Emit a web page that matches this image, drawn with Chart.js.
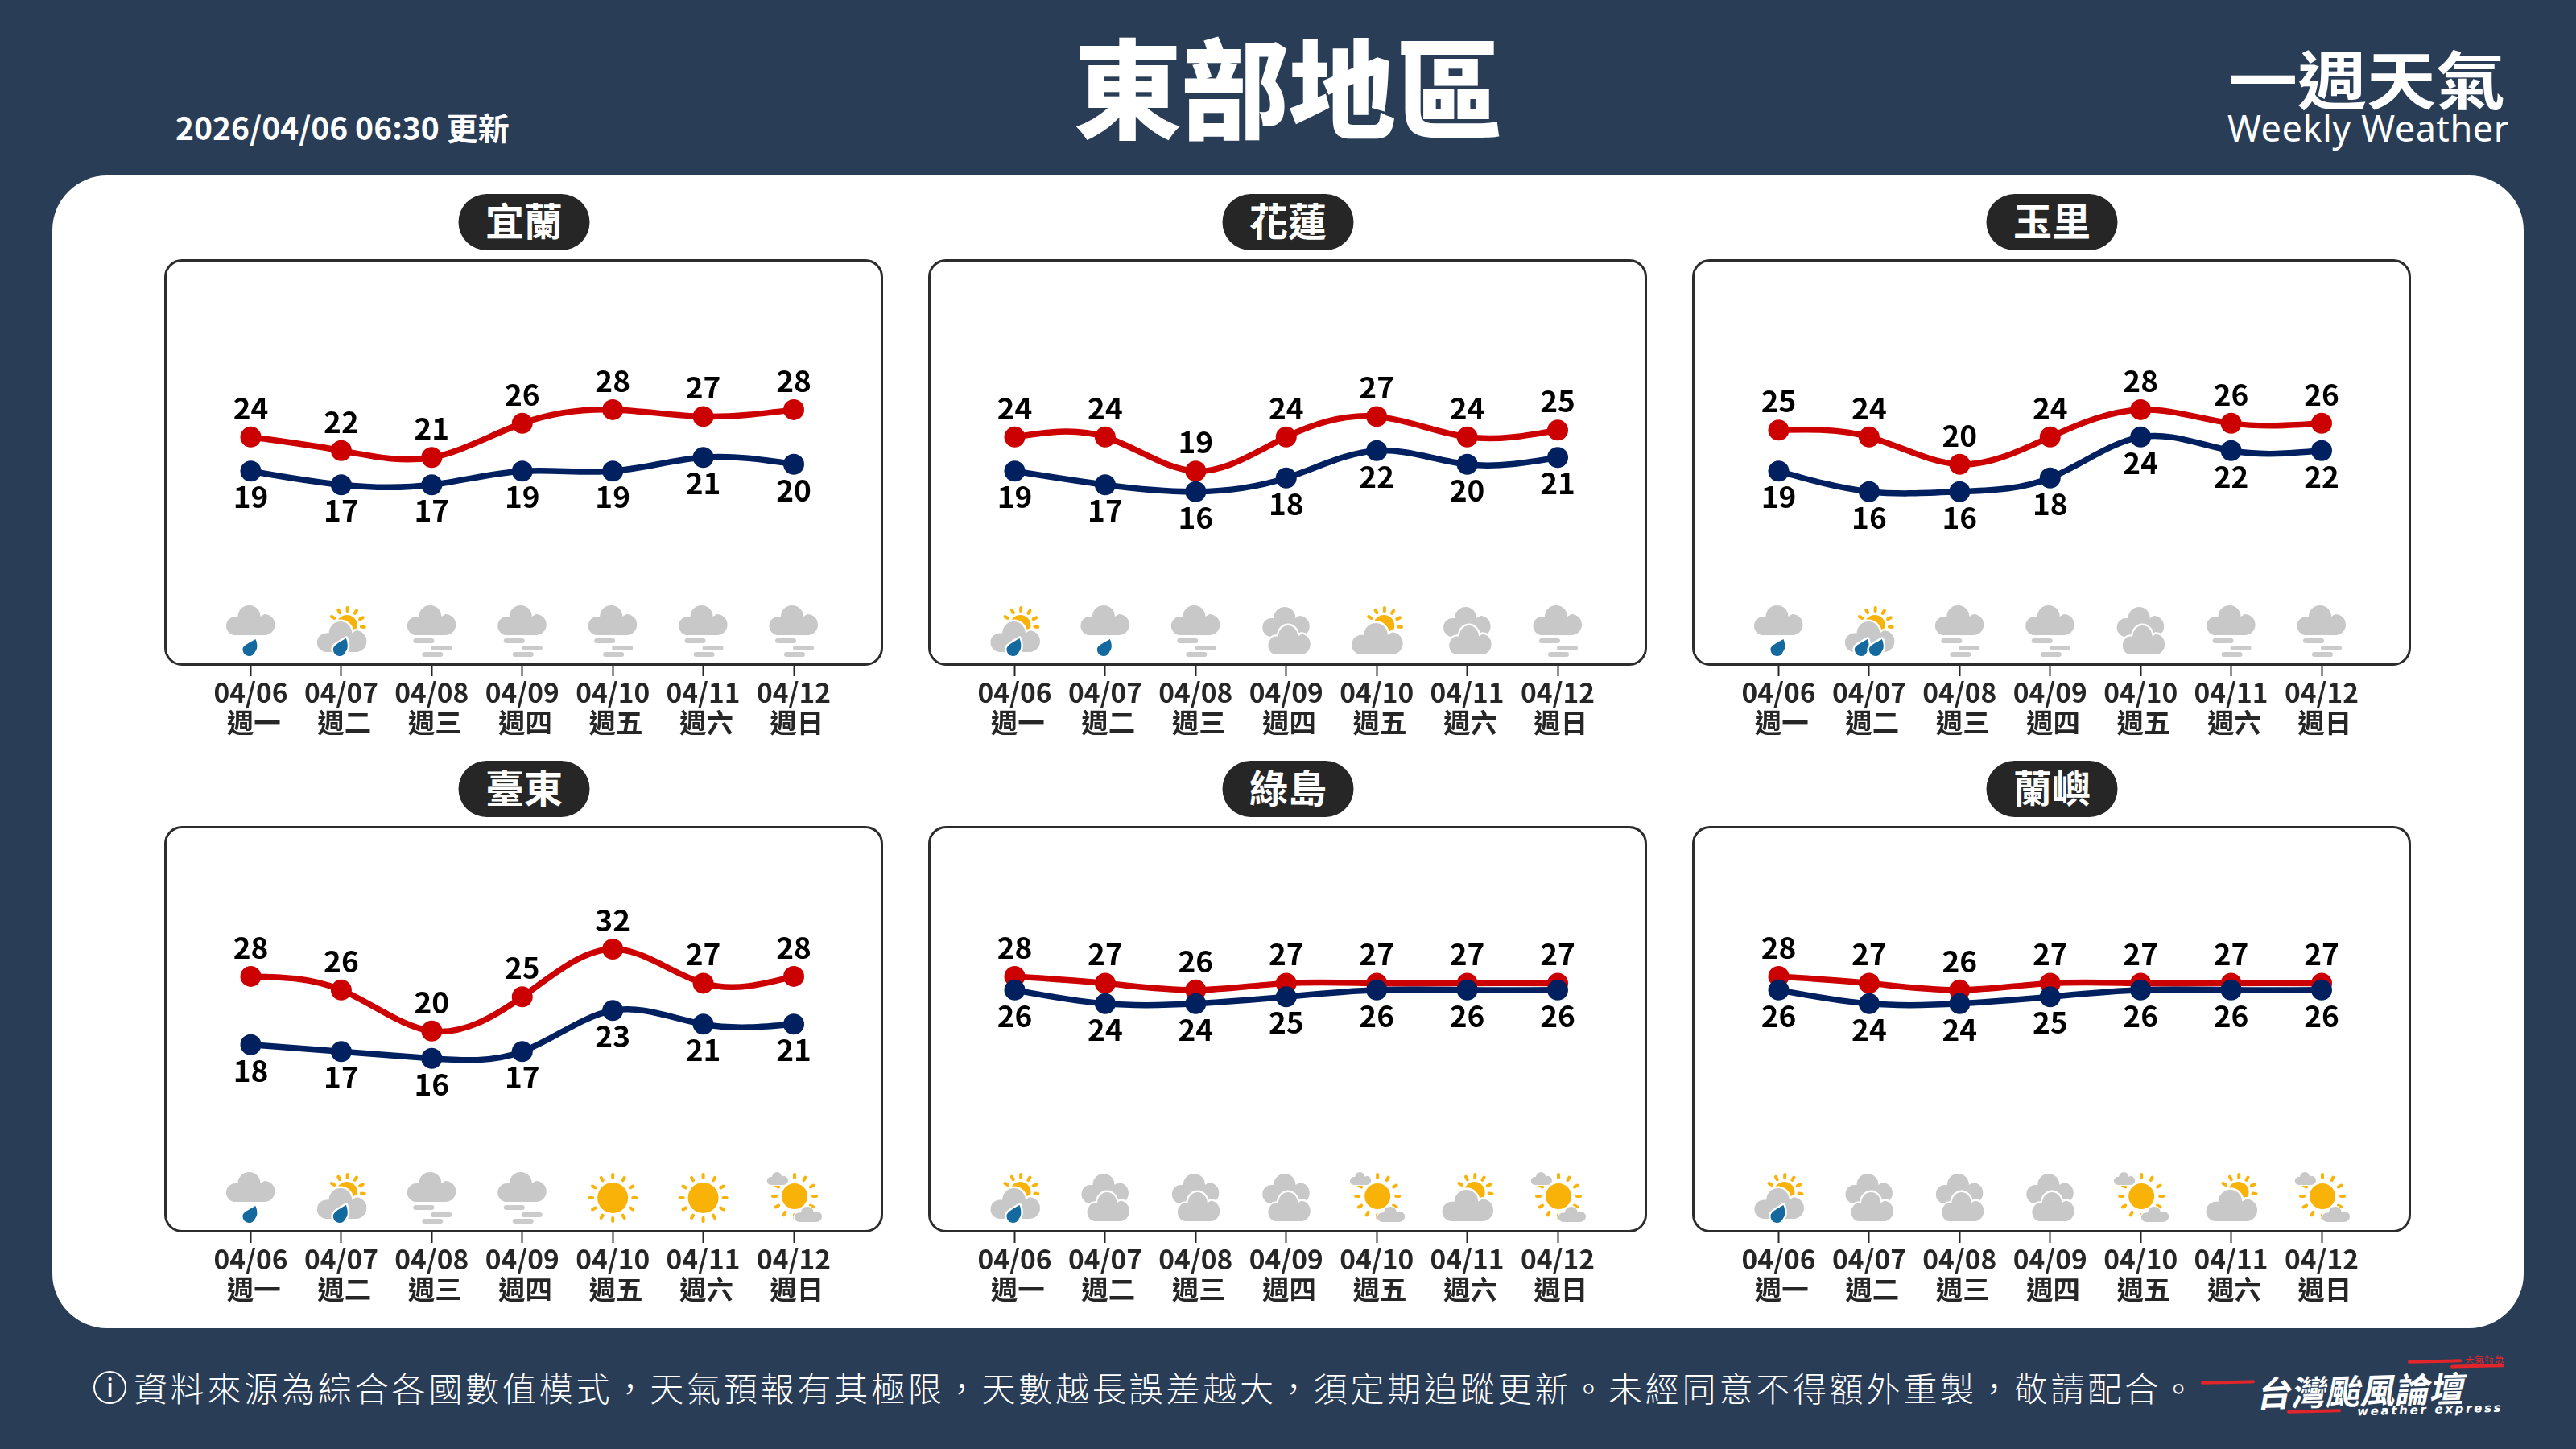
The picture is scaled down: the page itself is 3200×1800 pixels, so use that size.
<!DOCTYPE html>
<html lang="zh-Hant">
<head>
<meta charset="utf-8">
<title>東部地區 一週天氣</title>
<script src="https://cdn.jsdelivr.net/npm/chart.js@4"></script>
<style>
html,body{margin:0;padding:0;background:#2a3d57;}
body{position:relative;width:3200px;height:1800px;overflow:hidden;font-family:"Noto Sans CJK TC",sans-serif;color:#fff;}
.abs{position:absolute;white-space:nowrap;}
#sheet{left:65px;top:218px;width:3070px;height:1432px;background:#fff;border-radius:68px;}
#title{left:1600px;top:104px;transform:translate(-50%,-50%);font-size:134px;font-weight:900;line-height:1;letter-spacing:-1px;}
#stamp{left:218px;top:157px;transform:translateY(-50%);font-size:39px;font-weight:700;line-height:1;}
#weekly{left:2768px;top:96px;transform:translateY(-50%) scaleY(.92);font-size:86px;font-weight:700;line-height:1;letter-spacing:0;}
#weeklyEn{left:2767px;top:129px;font-family:"Noto Sans",sans-serif;font-size:45px;line-height:60px;letter-spacing:.6px;}
#note{left:166px;top:1723px;transform:translateY(-50%);font-size:42px;font-weight:300;line-height:1;letter-spacing:3.8px;}
#noteMark{left:116px;top:1703px;width:37px;height:37px;border:2.5px solid #fff;border-radius:50%;text-align:center;font:500 32px/37px "Noto Sans",sans-serif;}
.pill{transform:translateX(-50%);width:163px;height:70px;border-radius:35px;background:#262626;text-align:center;font-size:48px;font-weight:700;line-height:62px;}
.box{box-sizing:border-box;width:893px;height:505px;border:3px solid #2c2c2c;border-radius:22px;}
canvas.panel{position:absolute;}
.slash{height:4px;border-radius:2px;background:#e2252b;transform:rotate(-1.2deg);}
#brand{left:2806px;top:1697px;font-size:43px;font-weight:700;line-height:56px;transform:rotate(-1.5deg) skewX(-12deg);}
#brandEn{left:2928px;top:1741px;font:italic 700 15px/20px "DejaVu Sans",sans-serif;letter-spacing:2.7px;transform:rotate(-1.5deg);}
#brandTag{left:3062px;top:1681px;font-size:11.5px;line-height:14px;color:#e2252b;letter-spacing:.8px;}
</style>
</head>
<body>
<div class="abs" id="sheet"></div>
<div class="abs" id="title">東部地區</div>
<div class="abs" id="stamp">2026/04/06 06:30 更新</div>
<div class="abs" id="weekly">一週天氣</div>
<div class="abs" id="weeklyEn">Weekly Weather</div>
<div class="abs" id="noteMark">i</div>
<div class="abs" id="note">資料來源為綜合各國數值模式，天氣預報有其極限，天數越長誤差越大，須定期追蹤更新。未經同意不得額外重製，敬請配合。</div>
<div class="abs slash" style="left:2734px;top:1715px;width:67px;"></div>
<div class="abs slash" style="left:2841px;top:1751px;width:67px;"></div>
<div class="abs slash" style="left:2991px;top:1689px;width:67px;"></div>
<div class="abs slash" style="left:3044px;top:1695px;width:67px;"></div>
<div class="abs" id="brand">台灣颱風論壇</div>
<div class="abs" id="brandEn">weather express</div>
<div class="abs" id="brandTag">天氣特急</div>

<script>
const dates=['04/06','04/07','04/08','04/09','04/10','04/11','04/12'];
const weekdays=['週一','週二','週三','週四','週五','週六','週日'];

const yilanHigh=[24,22,21,26,28,27,28];
const yilanLow=[19,17,17,19,19,21,20];
const yilanSky=['rain','sunRain','fog','fog','fog','fog','fog'];

const hualienHigh=[24,24,19,24,27,24,25];
const hualienLow=[19,17,16,18,22,20,21];
const hualienSky=['sunRain','rain','fog','cloudy','partly','cloudy','fog'];

const yuliHigh=[25,24,20,24,28,26,26];
const yuliLow=[19,16,16,18,24,22,22];
const yuliSky=['rain','sunRain2','fog','fog','cloudy','fog','fog'];

const taitungHigh=[28,26,20,25,32,27,28];
const taitungLow=[18,17,16,17,23,21,21];
const taitungSky=['rain','sunRain','fog','fog','sunny','sunny','mostly'];

const greenHigh=[28,27,26,27,27,27,27];
const greenLow=[26,24,24,25,26,26,26];
const greenSky=['sunRain','cloudy','cloudy','cloudy','mostly','partly','mostly'];

const orchidHigh=[28,27,26,27,27,27,27];
const orchidLow=[26,24,24,25,26,26,26];
const orchidSky=['sunRain','cloudy','cloudy','cloudy','mostly','partly','mostly'];

const sites=[
	{name:'宜蘭',high:yilanHigh,low:yilanLow,sky:yilanSky},
	{name:'花蓮',high:hualienHigh,low:hualienLow,sky:hualienSky},
	{name:'玉里',high:yuliHigh,low:yuliLow,sky:yuliSky},
	{name:'臺東',high:taitungHigh,low:taitungLow,sky:taitungSky},
	{name:'綠島',high:greenHigh,low:greenLow,sky:greenSky},
	{name:'蘭嶼',high:orchidHigh,low:orchidLow,sky:orchidSky}
];

const FONT='"Noto Sans CJK TC",sans-serif';
const GREY='#c8c8c8', SUN='#f9b208', DROP='#146a9e';

// cloud with a flat base, cx = centre, by = base line
function cloud(c,cx,by,w,h,halo){
	c.save();
	c.translate(cx,by);
	c.scale(w/60,h/37);
	c.beginPath();
	c.moveTo(-19,0);
	c.arc(-19,-11.5,11.5,Math.PI/2,Math.PI*1.5);
	c.arc(-2,-23,14,Math.PI,Math.PI*2);
	c.arc(17,-13,13,-Math.PI/2,Math.PI/2);
	c.closePath();
	if(halo){
		c.strokeStyle='#fff';
		c.lineWidth=5;
		c.stroke();
	}
	c.fillStyle=GREY;
	c.fill();
	c.restore();
}

function sun(c,cx,cy,r,rayIn,rayOut,from,to,count){
	c.fillStyle=SUN;
	c.beginPath();
	c.arc(cx,cy,r,0,Math.PI*2);
	c.fill();
	c.strokeStyle=SUN;
	c.lineWidth=4;
	c.lineCap='round';
	for(let i=0;i<count;i++){
		const a=(from+(to-from)*i/(count-1))*Math.PI/180;
		c.beginPath();
		c.moveTo(cx+Math.cos(a)*rayIn,cy+Math.sin(a)*rayIn);
		c.lineTo(cx+Math.cos(a)*rayOut,cy+Math.sin(a)*rayOut);
		c.stroke();
	}
}

function drop(c,x,top,bot,halo){
	const r=8;
	c.beginPath();
	c.moveTo(x+7,top);
	c.bezierCurveTo(x+10,top+8,x+r+1,bot-9,x+r-1,bot-6);
	c.arc(x-1,bot-r,r,0.2,Math.PI-0.1);
	c.bezierCurveTo(x-10,bot-13,x-3,top+6,x+7,top);
	c.closePath();
	if(halo){
		c.strokeStyle='#fff';
		c.lineWidth=5;
		c.lineJoin='round';
		c.stroke();
	}
	c.fillStyle=DROP;
	c.fill();
}

function fogBar(c,x1,x2,y){
	c.fillStyle='#cbcbcb';
	c.beginPath();
	c.roundRect(x1,y,x2-x1,6,3);
	c.fill();
}

function skyIcon(c,kind,x,b){
	if(kind==='rain'){
		cloud(c,x,b-38,60,37);
		drop(c,x-1,b-33,b-12);
	}else if(kind==='sunRain'||kind==='sunRain2'){
		sun(c,x+7,b-50,13,18,22,-150,5,6);
		cloud(c,x+1,b-17,61,38,true);
		if(kind==='sunRain2'){
			drop(c,x-9,b-33,b-12,true);
			drop(c,x+9,b-33,b-12,true);
		}else{
			drop(c,x-1,b-34,b-12,true);
		}
	}else if(kind==='fog'){
		cloud(c,x,b-38,60,37);
		fogBar(c,x-23,x+3,b-34);
		fogBar(c,x-1,x+25,b-25);
		fogBar(c,x-12,x+14,b-17);
	}else if(kind==='cloudy'){
		cloud(c,x,b-36,58,37);
		cloud(c,x+4,b-14,52,36,true);
	}else if(kind==='partly'){
		sun(c,x+9,b-50,13,18,22,-150,5,6);
		cloud(c,x+1,b-14,63,39,true);
	}else if(kind==='sunny'){
		sun(c,x,b-43,19,25,29,0,330,12);
	}else if(kind==='mostly'){
		sun(c,x+1,b-45,16,23,27,0,330,12);
		cloud(c,x-20,b-59,26,16,true);
		cloud(c,x+18,b-13,34,19,true);
	}
}

// natural cubic spline through the pixel positions, written into the points' bezier handles
function naturalSpline(points,key){
	const n=points.length, y=points.map(p=>p[key]);
	const m=new Array(n).fill(0), cp=new Array(n).fill(0), dp=new Array(n).fill(0);
	for(let i=1;i<n-1;i++){
		const d=6*(y[i-1]-2*y[i]+y[i+1]);
		const w=4-cp[i-1];
		cp[i]=1/w;
		dp[i]=(d-dp[i-1])/w;
	}
	for(let i=n-2;i>0;i--)m[i]=dp[i]-cp[i]*m[i+1];
	for(let i=0;i<n-1;i++){
		const slope=y[i+1]-y[i];
		points[i]['cp2'+key]=y[i]+(slope-(2*m[i]+m[i+1])/6)/3;
		points[i+1]['cp1'+key]=y[i+1]-(slope+(m[i]+2*m[i+1])/6)/3;
	}
}

const splineLines={
	id:'splineLines',
	beforeDatasetsDraw(chart){
		chart.data.datasets.forEach((ds,k)=>{
			const meta=chart.getDatasetMeta(k);
			naturalSpline(meta.data,'x');
			naturalSpline(meta.data,'y');
			meta.dataset._pointsUpdated=true;
		});
	}
};

// value labels above the highs and below the lows, weather icons along the bottom
const panelExtras={
	id:'panelExtras',
	afterDatasetsDraw(chart){
		const c=chart.ctx;
		const b=chart.chartArea.bottom;
		c.save();
		c.font='700 37px '+FONT;
		c.fillStyle='#000';
		c.textAlign='center';
		c.textBaseline='middle';
		chart.data.datasets.forEach((ds,k)=>{
			const dy=ds.label==='高溫'?-36:32;
			chart.getDatasetMeta(k).data.forEach((pt,i)=>{
				c.fillText(ds.data[i],pt.x,pt.y+dy);
			});
		});
		chart.options.plugins.panelExtras.sky.forEach((kind,i)=>{
			skyIcon(c,kind,chart.scales.x.getPixelForValue(i),b);
		});
		c.restore();
	}
};

const lefts=[204,1153,2102], tops=[322,1026];

sites.forEach((site,n)=>{
	const left=lefts[n%3], top=tops[Math.floor(n/3)];

	const pill=document.createElement('div');
	pill.className='abs pill';
	pill.textContent=site.name;
	pill.style.left=(left+447)+'px';
	pill.style.top=(top-81)+'px';
	document.body.appendChild(pill);

	const box=document.createElement('div');
	box.className='abs box';
	box.style.left=left+'px';
	box.style.top=top+'px';
	document.body.appendChild(box);

	const cv=document.createElement('canvas');
	cv.className='panel';
	cv.width=893;
	cv.height=617;
	cv.style.left=left+'px';
	cv.style.top=top+'px';
	document.body.appendChild(cv);

	new Chart(cv,{
		type:'line',
		data:{
			labels:dates.map((d,i)=>[d,' '+weekdays[i]]),
			datasets:[
				{label:'低溫',data:site.low,borderColor:'#002060',backgroundColor:'#002060',pointBackgroundColor:'#002060'},
				{label:'高溫',data:site.high,borderColor:'#cc0000',backgroundColor:'#cc0000',pointBackgroundColor:'#cc0000'}
			].map(ds=>Object.assign(ds,{
				borderWidth:7.5,
				tension:0.4,
				pointRadius:13,
				pointBorderWidth:0,
				clip:false
			}))
		},
		plugins:[splineLines,panelExtras],
		options:{
			responsive:false,
			animation:false,
			devicePixelRatio:1,
			layout:{padding:{left:107.5,right:111,top:0,bottom:0}},
			plugins:{
				legend:{display:false},
				title:{display:false},
				tooltip:{enabled:false},
				splineLines:{},
				panelExtras:{sky:site.sky}
			},
			scales:{
				y:{display:false,min:-9.5,max:48.5},
				x:{
					offset:false,
					afterFit(s){s.height=112;},
					border:{display:false},
					grid:{drawOnChartArea:false,drawTicks:true,tickLength:13,tickWidth:2,tickColor:'#262626'},
					ticks:{
						autoSkip:false,
						maxRotation:0,
						padding:2,
						color:'#262626',
						font:{family:FONT,size:33.5,weight:'700',lineHeight:1.1}
					}
				}
			}
		}
	});
});
</script>
</body>
</html>
